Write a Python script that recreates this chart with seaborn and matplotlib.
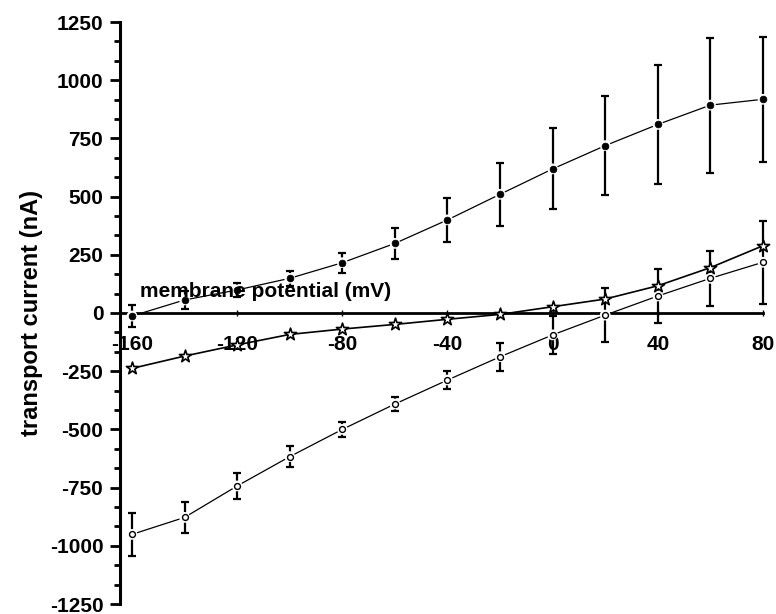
import numpy as np
import pandas as pd
import matplotlib
matplotlib.use("Agg")
import matplotlib.pyplot as plt
import seaborn as sns
from matplotlib.ticker import MultipleLocator

# ---- data ----
voltage = [-160, -140, -120, -100, -80, -60, -40, -20, 0, 20, 40, 60, 80]
filled_mean = [-13, 56, 99, 149, 216, 299, 400, 510, 619, 719, 810, 893, 918]
filled_err = [47, 37, 32, 33, 43, 65, 95, 135, 174, 211, 254, 290, 268]
star_mean = [-238, -185, -137, -92, -69, -49, -27, -6, 27, 60, 117, 195, 289]
open_mean = [-951, -878, -743, -617, -500, -391, -288, -188, -94, -9, 73, 149, 218]
open_err = [93, 65, 54, 45, 33, 30, 40, 61, 82, 117, 115, 119, 179]

x_ticks = [-160, -120, -80, -40, 0, 40, 80]
y_ticks = list(range(-1250, 1251, 250))
x_label = "membrane potential (mV)"
y_label = "transport current (nA)"

sns.set_style("ticks")
plt.rcParams["font.family"] = ["Liberation Sans", "DejaVu Sans"]
plt.rcParams["font.weight"] = "bold"
for key in ["text.color", "axes.labelcolor", "xtick.color", "ytick.color",
            "axes.edgecolor", "xtick.labelcolor", "ytick.labelcolor"]:
    plt.rcParams[key] = "black"

df = pd.DataFrame({
    "voltage": voltage * 3,
    "current": filled_mean + star_mean + open_mean,
    "series": ["filled"] * len(voltage) + ["star"] * len(voltage) + ["open"] * len(voltage),
})

fig = plt.figure(figsize=(7.76, 6.14), dpi=100)
ax = fig.add_axes([120 / 776, 10 / 614, 643 / 776, 582 / 614])

# lines
line_w = {"filled": 0.9, "star": 1.2, "open": 0.9}
for s in ["filled", "star", "open"]:
    sub = df[df["series"] == s]
    sns.lineplot(data=sub, x="voltage", y="current", ax=ax, color="black",
                 linewidth=line_w[s], estimator=None, sort=False, zorder=2,
                 legend=False)
for l in ax.lines:
    l.set_clip_on(False)

# error bars
for mean, err in [(filled_mean, filled_err), (open_mean, open_err)]:
    eb = ax.errorbar(voltage, mean, yerr=err, fmt="none", ecolor="black",
                     elinewidth=1.6, capsize=2.6, capthick=1.6, zorder=3)
    for art in list(eb.lines[1]) + list(eb.lines[2]):
        art.set_clip_on(False)

# halos + markers
sub_f = df[df["series"] == "filled"]
sub_s = df[df["series"] == "star"]
sub_o = df[df["series"] == "open"]
for sub in (sub_f, sub_o):
    sns.scatterplot(data=sub, x="voltage", y="current", ax=ax, marker="o", s=60,
                    color="white", edgecolor="none", linewidth=0, zorder=4,
                    legend=False, clip_on=False)
sns.scatterplot(data=sub_f, x="voltage", y="current", ax=ax, marker="o", s=24,
                color="black", edgecolor="black", linewidth=0.5, zorder=5,
                legend=False, clip_on=False)
sns.scatterplot(data=sub_o, x="voltage", y="current", ax=ax, marker="o", s=18,
                color="white", edgecolor="black", linewidth=1.0, zorder=5,
                legend=False, clip_on=False)
sns.scatterplot(data=sub_s, x="voltage", y="current", ax=ax, marker="*", s=85,
                color="white", edgecolor="black", linewidth=1.2, zorder=5,
                legend=False, clip_on=False)

# axes styling
ax.set_xlim(-164.56, 80)
ax.set_ylim(-1250, 1250)
ax.set_xticks(x_ticks)
ax.set_xticklabels([str(v) for v in x_ticks])
ax.set_yticks(y_ticks)
ax.set_yticklabels([str(v) for v in y_ticks])
ax.yaxis.set_minor_locator(MultipleLocator(250 / 3))

ax.spines["top"].set_visible(False)
ax.spines["right"].set_visible(False)
ax.spines["left"].set_linewidth(2.2)
ax.spines["left"].set_color("black")
ax.spines["bottom"].set_position(("data", 0))
ax.spines["bottom"].set_linewidth(2.0)
ax.spines["bottom"].set_color("black")
ax.spines["bottom"].set_zorder(2.5)

ax.tick_params(axis="y", which="major", direction="out", length=7, width=2,
               labelsize=15, pad=5, colors="black")
ax.tick_params(axis="y", which="minor", direction="out", length=4.5, width=2,
               colors="black")
ax.tick_params(axis="x", which="major", direction="inout", length=4, width=1,
               labelsize=15, pad=14, colors="black")
for lab in ax.get_xticklabels() + ax.get_yticklabels():
    lab.set_fontweight("bold")
    lab.set_color("black")

ax.set_xlabel("")
ax.set_ylabel(y_label, fontsize=17, fontweight="bold", color="black")
ax.yaxis.set_label_coords(-0.12, 0.5)
ax.text(-157, 69, x_label, fontsize=15, fontweight="bold", ha="left",
        va="baseline", zorder=6, color="black")

fig.savefig("out.png", dpi=100)
